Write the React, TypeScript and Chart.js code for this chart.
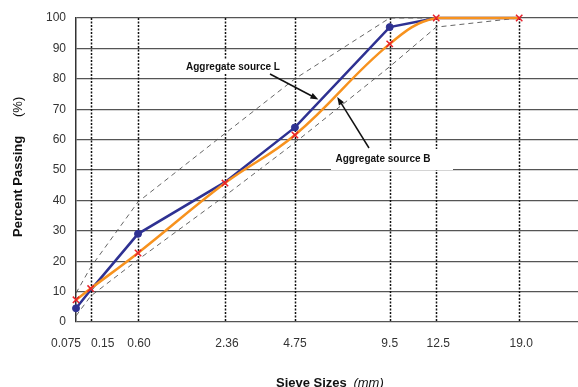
import { useEffect, useRef } from "react";
import { Chart, registerables } from "chart.js";

Chart.register(...registerables);

// ---- data ----
const sieveSizes = [0.075, 0.15, 0.6, 2.36, 4.75, 9.5, 12.5, 19.0];
const sieveLabels = ["0.075", "0.15", "0.60", "2.36", "4.75", "9.5", "12.5", "19.0"];
const sourceL = [4.5, 10.5, 29, 46, 64, 97, 100, 100];
const sourceB = [7.3, 11, 22.7, 45.7, 61.5, 91.5, 100, 100];
const upperLimit = [9.5, 18, 39.5, 62, 80, 100, 100, 100];
const lowerLimit = [2, 8.5, 20.5, 41.5, 59, 84, 97, 100];
const percentTicks = [0, 10, 20, 30, 40, 50, 60, 70, 80, 90, 100];

// 0.45 power gradation chart
const POWER = 0.45;
const tx = (s: number) => Math.pow(s, POWER);

const pts = (vals: number[]) => vals.map((v, i) => ({ x: tx(sieveSizes[i]), y: v }));

const FONT = "'Liberation Sans', Arial, sans-serif";

export default function App() {
  const ref = useRef<HTMLCanvasElement | null>(null);

  useEffect(() => {
    if (!ref.current) return;

    const overlay = {
      id: "overlay",
      beforeDatasetsDraw(chart: any) {
        const { ctx, chartArea } = chart;
        const xs = chart.scales.x;
        ctx.save();
        ctx.strokeStyle = "#111";
        ctx.lineWidth = 1.5;
        ctx.setLineDash([2, 1.5]);
        sieveSizes.forEach((s, i) => {
          if (i === 0) return;
          const x = Math.round(xs.getPixelForValue(tx(s))) + 0.5;
          ctx.beginPath();
          ctx.moveTo(x, chartArea.top);
          ctx.lineTo(x, chartArea.bottom);
          ctx.stroke();
        });
        ctx.restore();
      },
      afterDatasetsDraw(chart: any) {
        const { ctx } = chart;
        const xs = chart.scales.x;
        const ys = chart.scales.y;
        const px = (s: number, p: number) => ({ x: xs.getPixelForValue(tx(s)), y: ys.getPixelForValue(p) });

        const arrow = (x1: number, y1: number, x2: number, y2: number) => {
          const ang = Math.atan2(y2 - y1, x2 - x1);
          const L = 8, W = 3;
          ctx.save();
          ctx.strokeStyle = "#111";
          ctx.fillStyle = "#111";
          ctx.lineWidth = 1.5;
          ctx.beginPath();
          ctx.moveTo(x1, y1);
          ctx.lineTo(x2 - Math.cos(ang) * L * 0.8, y2 - Math.sin(ang) * L * 0.8);
          ctx.stroke();
          ctx.beginPath();
          ctx.moveTo(x2, y2);
          ctx.lineTo(x2 - Math.cos(ang) * L - Math.sin(ang) * W, y2 - Math.sin(ang) * L + Math.cos(ang) * W);
          ctx.lineTo(x2 - Math.cos(ang) * L + Math.sin(ang) * W, y2 - Math.sin(ang) * L - Math.cos(ang) * W);
          ctx.closePath();
          ctx.fill();
          ctx.restore();
        };

        ctx.save();
        // label L
        ctx.fillStyle = "#fff";
        ctx.fillRect(183, 60, 100, 14);
        ctx.fillStyle = "#111";
        ctx.font = `bold 10px ${FONT}`;
        ctx.textAlign = "center";
        ctx.textBaseline = "middle";
        ctx.fillText("Aggregate source L", 233, 67);
        const tipL = px(5.76, 73.2);
        arrow(270, 74, tipL.x, tipL.y);

        // label B
        ctx.fillStyle = "#fff";
        ctx.fillRect(331, 149, 122, 21);
        ctx.fillStyle = "#111";
        ctx.fillText("Aggregate source B", 383, 159);
        const tipB = px(6.65, 74);
        arrow(369, 148, tipB.x, tipB.y);
        ctx.restore();
      },
      afterDraw(chart: any) {
        const { ctx, chartArea } = chart;
        const xs = chart.scales.x;
        ctx.save();
        // x tick labels
        ctx.fillStyle = "#333";
        ctx.font = `12px ${FONT}`;
        ctx.textAlign = "center";
        ctx.textBaseline = "middle";
        const nudge = [-10, 12, 1, 2, 0, 0, 2, 2];
        sieveLabels.forEach((lab, i) => {
          const x = xs.getPixelForValue(tx(sieveSizes[i])) + nudge[i];
          ctx.fillText(lab, x, chartArea.bottom + 22);
        });

        // x title
        ctx.fillStyle = "#111";
        ctx.textAlign = "left";
        ctx.textBaseline = "alphabetic";
        ctx.font = `bold 13px ${FONT}`;
        ctx.fillText("Sieve Sizes", 276, 387);
        const w1 = ctx.measureText("Sieve Sizes ").width;
        ctx.font = `italic 13px ${FONT}`;
        ctx.fillText("(mm)", 276 + w1 + 3, 387);

        // y title
        ctx.translate(18, 237);
        ctx.rotate(-Math.PI / 2);
        ctx.textBaseline = "middle";
        ctx.font = `bold 13px ${FONT}`;
        ctx.fillText("Percent Passing", 0, 0);
        ctx.font = `13px ${FONT}`;
        ctx.fillText("(%)", 120, 0);
        ctx.restore();
      },
    };

    const chart = new Chart(ref.current, {
      type: "line",
      data: {
        datasets: [
          {
            label: "Aggregate source B",
            data: pts(sourceB),
            borderColor: "#F7921E",
            borderWidth: 2.5,
            tension: 0.4,
            pointStyle: "crossRot",
            pointRadius: 4.5,
            pointBorderColor: "#E8202A",
            pointBackgroundColor: "#E8202A",
            pointBorderWidth: 1.5,
            clip: false as any,
          },
          {
            label: "Aggregate source L",
            data: pts(sourceL),
            borderColor: "#2E3192",
            borderWidth: 2.5,
            tension: 0,
            pointStyle: "circle",
            pointRadius: (c: any) =>
              Math.abs(sourceL[c.dataIndex] - sourceB[c.dataIndex]) > 1.5 ? 3.5 : 0,
            pointBorderColor: "#2E3192",
            pointBackgroundColor: "#2E3192",
            pointBorderWidth: 1,
            clip: false as any,
          },
          {
            label: "Upper limit",
            data: pts(upperLimit),
            borderColor: "#555",
            borderWidth: 0.9,
            borderDash: [5, 4],
            pointRadius: 0,
            tension: 0,
            clip: false as any,
          },
          {
            label: "Lower limit",
            data: pts(lowerLimit),
            borderColor: "#555",
            borderWidth: 0.9,
            borderDash: [5, 4],
            pointRadius: 0,
            tension: 0,
            clip: false as any,
          },
        ],
      },
      options: {
        animation: false,
        responsive: false,
        devicePixelRatio: 1,
        layout: { autoPadding: false, padding: { top: 18, right: 0, left: 0, bottom: 0 } },
        plugins: { legend: { display: false }, tooltip: { enabled: false } },
        scales: {
          x: {
            type: "linear",
            min: tx(0.075),
            max: 4.22,
            ticks: { display: false },
            grid: { display: false },
            border: { display: false },
            afterFit: (s: any) => {
              s.height = 65;
            },
          },
          y: {
            min: 0,
            max: 100,
            afterBuildTicks: (s: any) => {
              s.ticks = percentTicks.map((v) => ({ value: v }));
            },
            ticks: {
              color: "#333",
              font: { family: FONT, size: 12 },
              padding: 10,
            },
            grid: { color: "#555", lineWidth: 1.2, drawTicks: false },
            border: { display: true, color: "#333", width: 1.5 },
            afterFit: (s: any) => {
              s.width = 76;
            },
          },
        },
      },
      plugins: [overlay],
    });

    return () => chart.destroy();
  }, []);

  return (
    <div style={{ position: "fixed", left: 0, top: 0, width: 578, height: 387, background: "#fff" }}>
      <canvas ref={ref} width={578} height={387} style={{ display: "block" }} />
    </div>
  );
}
